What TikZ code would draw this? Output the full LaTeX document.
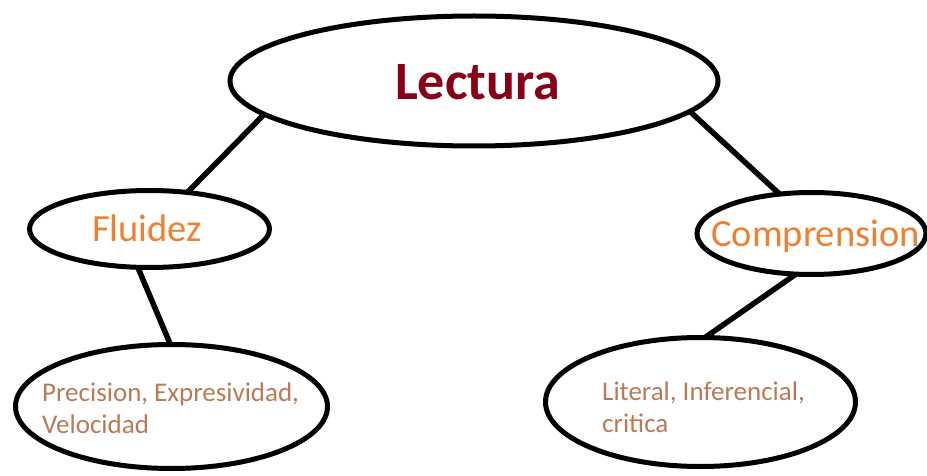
\documentclass[tikz,border=0pt]{standalone}
\usepackage{fontspec}
\setmainfont{Carlito}
\usetikzlibrary{shapes.geometric}
\definecolor{lectred}{RGB}{136,0,21}
\definecolor{orangetxt}{RGB}{240,128,48}
\definecolor{browntxt}{RGB}{185,122,87}
\tikzset{
  oval/.style={ellipse, draw=black, line width=5pt, inner sep=0pt, outer sep=0pt, fill=white},
  link/.style={draw=black, line width=5.5pt},
  bigtxt/.style={font=\fontsize{38.5}{46}\selectfont, text=orangetxt, inner sep=0pt, anchor=base},
  smalltxt/.style={font=\fontsize{27}{32}\selectfont, text=browntxt, inner sep=0pt, anchor=base west}
}
\begin{document}
\begin{tikzpicture}[x=1pt,y=-1pt]
\useasboundingbox (0,0) rectangle (927,476);
\clip (0,0) rectangle (927,476);
\node[oval, minimum width=488pt, minimum height=130pt] (lect) at (474,81) {};
\node[oval, minimum width=240pt, minimum height=77pt] (flu) at (149.5,229) {};
\node[oval, minimum width=229pt, minimum height=82pt] (comp) at (811.5,233.5) {};
\node[oval, minimum width=312pt, minimum height=124pt] (bl) at (171.5,406.5) {};
\node[oval, minimum width=310pt, minimum height=129pt] (br) at (700.5,402) {};
\draw[link] (lect.189) -- (flu.44);
\draw[link] (lect.352) -- (comp.129);
\draw[link] (flu.253) -- (bl.91);
\draw[link] (comp.249) -- (br.86);
\node[inner sep=0pt, anchor=base, text=lectred, font=\fontsize{54}{64}\selectfont\bfseries] (tlect) at (477.5,100) {Lectura};
\node[bigtxt] (tflu) at (147,241) {Fluidez};
\node[bigtxt] (tcomp) at (815.5,246) {Comprension};
\node[smalltxt] (tbl1) at (42,401) {Precision, Expresividad,};
\node[smalltxt] (tbl2) at (42,433) {Velocidad};
\node[smalltxt] (tbr1) at (602,400) {Literal, Inferencial,};
\node[smalltxt] (tbr2) at (602,432) {critica};
\end{tikzpicture}
\end{document}
